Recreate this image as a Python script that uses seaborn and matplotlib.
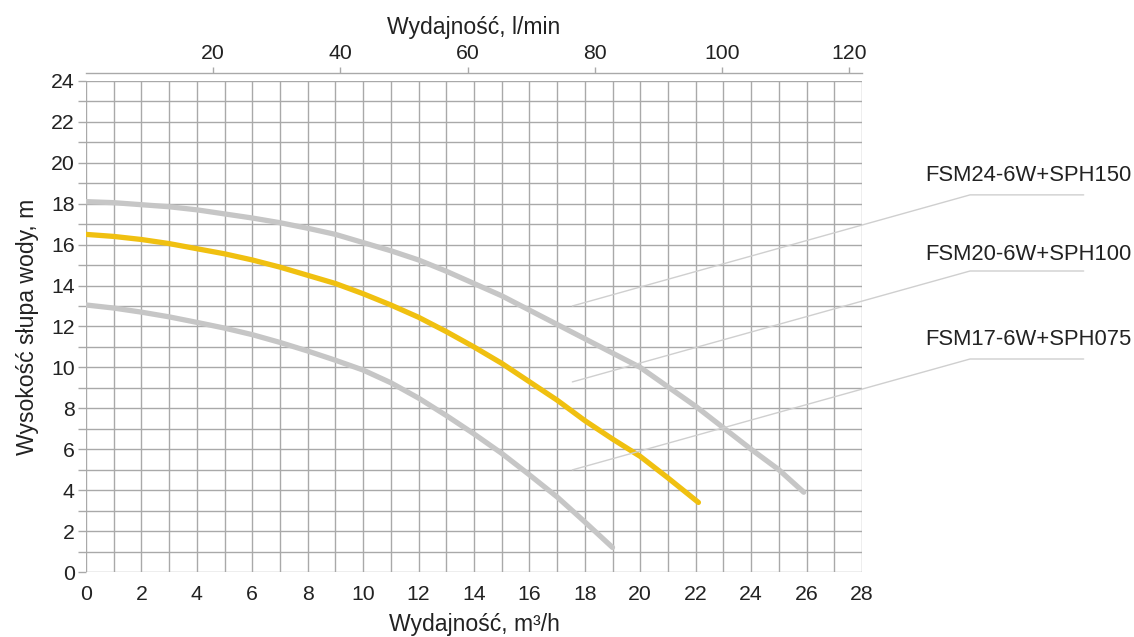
import numpy as np
import pandas as pd
import matplotlib
matplotlib.use('Agg')
import matplotlib.pyplot as plt
import seaborn as sns

# curve data: flow m3/h -> head m
x_fsm24 = [0, 1, 2, 3, 4, 5, 6, 7, 8, 9, 10, 11, 12, 13, 14, 15, 16, 17, 18, 19, 20, 21, 22, 23, 24, 25, 25.9]
y_fsm24 = [18.1, 18.05, 17.95, 17.85, 17.7, 17.5, 17.3, 17.07, 16.8, 16.5, 16.1, 15.7, 15.25, 14.7,
           14.1, 13.5, 12.8, 12.1, 11.4, 10.7, 10.0, 9.05, 8.1, 7.05, 6.0, 5.0, 3.9]

x_fsm20 = [0, 1, 2, 3, 4, 5, 6, 7, 8, 9, 10, 11, 12, 13, 14, 15, 16, 17, 18, 19, 20, 21, 22.1]
y_fsm20 = [16.5, 16.4, 16.25, 16.05, 15.8, 15.55, 15.25, 14.9, 14.5, 14.1, 13.6, 13.05, 12.45, 11.75,
           11.0, 10.2, 9.3, 8.4, 7.4, 6.5, 5.65, 4.6, 3.4]

x_fsm17 = [0, 1, 2, 3, 4, 5, 6, 7, 8, 9, 10, 11, 12, 13, 14, 15, 16, 17, 18, 19]
y_fsm17 = [13.05, 12.9, 12.7, 12.47, 12.2, 11.92, 11.6, 11.22, 10.8, 10.35, 9.87, 9.25, 8.5, 7.65,
           6.75, 5.8, 4.75, 3.67, 2.45, 1.2]

model_names = ['FSM24-6W+SPH150', 'FSM20-6W+SPH100', 'FSM17-6W+SPH075']
# leader lines: start on chart, elbow, end of underline (data units)
leader_start_y = [13.0, 9.29, 4.99]
leader_elbow_y = [18.43, 14.71, 10.41]
label_y = [19.4, 15.5, 11.34]

x_ticks = list(range(0, 29, 2))
y_ticks = list(range(0, 25, 2))
top_ticks = [20, 40, 60, 80, 100, 120]
lmin_per_m3h = 120 / 27.55

sns.set_theme(style='white')
plt.rcParams['font.family'] = ['Liberation Sans', 'DejaVu Sans']

GRID = '#a9a9a9'
GREY = '#c6c6c6'
YELLOW = '#f0c010'
TXT = '#222222'
TICK_FS = 15.3
TITLE_FS = 16.6

fig = plt.figure(figsize=(11.34, 6.37), dpi=100)
ax = fig.add_axes([0.0758, 0.102, 0.6843, 0.771])

# grid every 1 unit
ax.set_xticks(np.arange(0, 29, 1), minor=True)
ax.set_yticks(np.arange(0, 25, 1), minor=True)
ax.set_xticks(x_ticks)
ax.set_yticks(y_ticks)
ax.grid(True, which='both', color=GRID, linewidth=1.0)
ax.set_axisbelow(True)
for s in ax.spines.values():
    s.set_visible(False)
ax.set_xlim(0, 28)
ax.set_ylim(0, 24)

ax.tick_params(axis='x', which='both', length=0, pad=9, labelsize=TICK_FS, labelcolor=TXT)
ax.tick_params(axis='y', which='both', length=6, width=1.0, color=GRID, pad=2,
               labelsize=TICK_FS, labelcolor=TXT, left=True)

sns.lineplot(x=x_fsm24, y=y_fsm24, ax=ax, color=GREY, linewidth=3.8, solid_capstyle='round')
sns.lineplot(x=x_fsm17, y=y_fsm17, ax=ax, color=GREY, linewidth=3.8, solid_capstyle='round')
sns.lineplot(x=x_fsm20, y=y_fsm20, ax=ax, color=YELLOW, linewidth=3.8, solid_capstyle='round')

ax.set_xlabel('Wydajność, m³/h', fontsize=TITLE_FS, color=TXT, labelpad=7)
ax.set_ylabel('Wysokość słupa wody, m', fontsize=TITLE_FS, color=TXT, labelpad=9)

# top axis in l/min, slightly offset above plot
sec = ax.secondary_xaxis(1.017, functions=(lambda v: v * lmin_per_m3h, lambda v: v / lmin_per_m3h))
sec.set_xticks(top_ticks)
sec.spines['top'].set_color(GRID)
sec.spines['top'].set_linewidth(1.0)
sec.tick_params(axis='x', length=4, width=1.0, color=GRID, pad=3, labelsize=TICK_FS, labelcolor=TXT)
sec.set_xlabel('Wydajność, l/min', fontsize=TITLE_FS, color=TXT, labelpad=7)

# leader lines and model labels
for name, y0, y1, yl in zip(model_names, leader_start_y, leader_elbow_y, label_y):
    ax.plot([17.55, 31.9, 36.0], [y0, y1, y1], color='#cfcfcf', linewidth=1.0, clip_on=False)
    ax.text(30.3, yl, name, fontsize=15.8, color=TXT, va='center', ha='left', clip_on=False)

fig.savefig('out.png', dpi=100)
